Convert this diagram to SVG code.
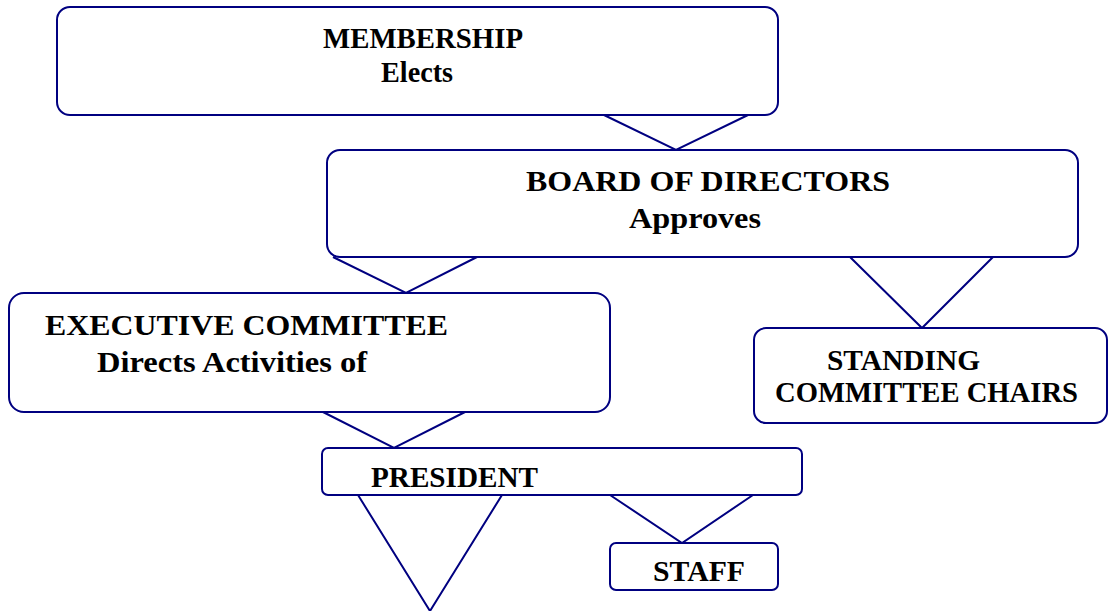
<svg xmlns="http://www.w3.org/2000/svg" width="1109" height="611" viewBox="0 0 1109 611">
<style>
.box{fill:#fff;stroke:#000080;stroke-width:2}
.ln{fill:none;stroke:#000080;stroke-width:2}
text{font-family:"Liberation Serif","Times New Roman",serif;font-weight:bold;font-size:30px;fill:#000}
</style>
<rect width="1109" height="611" fill="#fff"/>
<g id="connectors">
<polyline class="ln" points="604,115 676,150 748,115"/>
<polyline class="ln" points="333,257 406,293 477,257"/>
<polyline class="ln" points="850,257 922,328 993,257"/>
<polyline class="ln" points="323,412 394,448 465,412"/>
<polyline class="ln" points="358,495 430,611 502,495"/>
<polyline class="ln" points="610,495 682,543 753,495"/>
</g>
<g id="membership">
<rect class="box" x="57" y="7" width="721" height="108" rx="13"/>
<text x="323" y="48" textLength="200" lengthAdjust="spacingAndGlyphs">MEMBERSHIP</text>
<text x="381" y="82" textLength="72" lengthAdjust="spacingAndGlyphs">Elects</text>
</g>
<g id="board">
<rect class="box" x="327" y="150" width="751" height="107" rx="13"/>
<text x="526" y="191" textLength="364" lengthAdjust="spacingAndGlyphs">BOARD OF DIRECTORS</text>
<text x="629" y="228" textLength="132" lengthAdjust="spacingAndGlyphs">Approves</text>
</g>
<g id="executive">
<rect class="box" x="9" y="293" width="601" height="119" rx="15"/>
<text x="45" y="335" textLength="403" lengthAdjust="spacingAndGlyphs">EXECUTIVE COMMITTEE</text>
<text x="97" y="372" textLength="270" lengthAdjust="spacingAndGlyphs">Directs Activities of</text>
</g>
<g id="standing">
<rect class="box" x="754" y="328" width="353" height="95" rx="12"/>
<text x="827" y="370" textLength="153" lengthAdjust="spacingAndGlyphs">STANDING</text>
<text x="775" y="402" textLength="303" lengthAdjust="spacingAndGlyphs">COMMITTEE CHAIRS</text>
</g>
<g id="president">
<rect class="box" x="322" y="448" width="480" height="47" rx="6"/>
<text x="371" y="487" textLength="167" lengthAdjust="spacingAndGlyphs">PRESIDENT</text>
</g>
<g id="staff">
<rect class="box" x="610" y="543" width="168" height="47" rx="6"/>
<text x="653" y="581" textLength="92" lengthAdjust="spacingAndGlyphs">STAFF</text>
</g>
</svg>
